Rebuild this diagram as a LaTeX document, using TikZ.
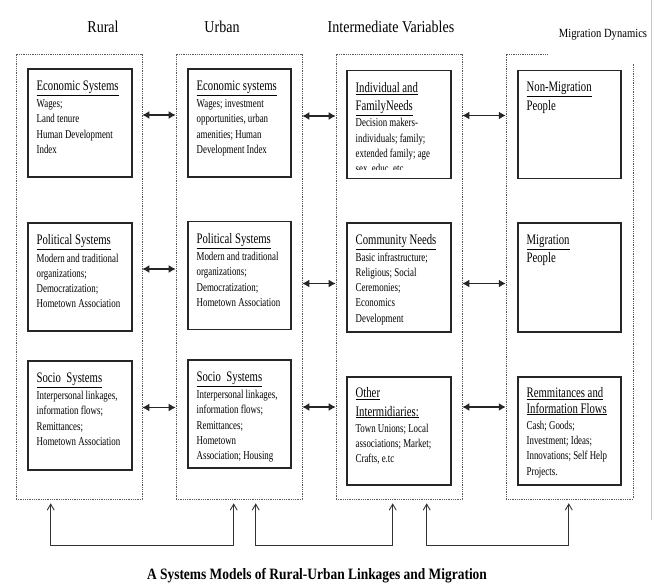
\documentclass[tikz,border=0pt]{standalone}
\usepackage{fontspec}
\setmainfont{Liberation Serif}[FakeStretch=0.74]
\newfontfamily\headfont{Liberation Serif}[FakeStretch=0.85]
\usetikzlibrary{arrows.meta,calc}

\tikzset{
  groupline/.style={draw=black!65, line width=0.6pt, dash pattern=on 1pt off 0.8pt},
  group/.style={groupline, minimum width=126pt, minimum height=445pt, inner sep=0pt},
  sysbox/.style={draw=black!85, line width=1.1pt, minimum width=104pt, minimum height=108pt, inner sep=0pt},
  boxtext/.style={anchor=north west, align=left, inner sep=0pt, font=\fontsize{12}{15.3}\selectfont},
  head/.style={font=\headfont\fontsize{16.5}{18}\selectfont},
  link/.style={{Latex[length=7pt,width=8pt]}-{Latex[length=7pt,width=8pt]}, line width=1.5pt, draw=black!85},
  feed/.style={{Straight Barb[length=6pt,width=7pt]}-{Straight Barb[length=6pt,width=7pt]}, line width=0.9pt, draw=black!80}
}
\newcommand{\ttl}[1]{{\fontsize{14.5}{16}\selectfont\underline{#1}}}
\newcommand{\bigtxt}[1]{{\fontsize{14.5}{16}\selectfont #1}}

\begin{document}
\begin{tikzpicture}[x=1pt,y=-1pt]
\useasboundingbox (0,0) rectangle (662,584);

% column headings
\node[head] (hRural) at (103,27) {Rural};
\node[head] (hUrban) at (222,27) {Urban};
\node[head] (hInter) at (391,27) {Intermediate Variables};
\node[font=\headfont\fontsize{12.5}{14}\selectfont] (hMigr) at (603,35) {Migration Dynamics};

% page edge
\draw[black!22, line width=1pt] (651,0) -- (651,520);

% dotted column groups
\node[group] (rural) at (79,276.5) {};
\node[group] (urban) at (239,276.5) {};
\node[group] (inter) at (399,276.5) {};
\node[inner sep=0pt, minimum width=127pt, minimum height=445pt] (migr) at (569.5,276.5) {};
\draw[groupline] ($(migr.north west)+(42,0)$) -- (migr.north west) -- (migr.south west)
  -- (migr.south east) -- ($(migr.north east)+(0,10)$);

% system boxes
\node[sysbox] (rEco) at (80,123) {};
\node[sysbox, minimum width=103pt] (uEco) at (239.5,123) {};
\node[sysbox] (iInd) at (399,124.5) {};
\node[sysbox, minimum width=103pt] (mNon) at (569.5,124.5) {};

\node[sysbox] (rPol) at (80,277) {};
\node[sysbox, minimum width=103pt] (uPol) at (239.5,275.5) {};
\node[sysbox, minimum height=109pt] (iCom) at (399,277.5) {};
\node[sysbox, minimum width=103pt, minimum height=109pt] (mMig) at (569.5,277.5) {};

\node[sysbox, minimum height=109pt] (rSoc) at (80,415.5) {};
\node[sysbox, minimum width=103pt] (uSoc) at (239.5,414) {};
\node[sysbox] (iOth) at (399,431) {};
\node[sysbox, minimum width=103pt] (mRem) at (569.5,431) {};

% box contents
\node[boxtext] (rEcoT) at ($(rEco.north west)+(9,12)$)
  {\ttl{Economic Systems}\\[2pt] Wages;\\ Land tenure\\ Human Development\\ Index};
\node[boxtext] (uEcoT) at ($(uEco.north west)+(9,12)$)
  {\ttl{Economic systems}\\[2pt] Wages; investment\\ opportunities, urban\\ amenities; Human\\ Development Index};
\begin{scope}
  \clip ($(iInd.north west)+(1,1)$) rectangle ($(iInd.south east)+(-1,-10)$);
  \node[boxtext] (iIndT) at ($(iInd.north west)+(9,12)$)
    {\ttl{Individual and}\\[3pt] \ttl{FamilyNeeds}\\[1pt] Decision makers-\\ individuals; family;\\ extended family; age\\ sex, educ, etc};
\end{scope}
\node[boxtext] (mNonT) at ($(mNon.north west)+(9,12)$)
  {\ttl{Non-Migration}\\[3pt] \bigtxt{People}};

\node[boxtext] (rPolT) at ($(rPol.north west)+(9,12)$)
  {\ttl{Political Systems}\\[2pt] Modern and traditional\\ organizations;\\ Democratization;\\ Hometown Association};
\node[boxtext] (uPolT) at ($(uPol.north west)+(9,12)$)
  {\ttl{Political Systems}\\[2pt] Modern and traditional\\ organizations;\\ Democratization;\\ Hometown Association};
\node[boxtext] (iComT) at ($(iCom.north west)+(9,12)$)
  {\ttl{Community Needs}\\[1pt] Basic infrastructure;\\ Religious; Social\\ Ceremonies;\\ Economics\\ Development};
\node[boxtext] (mMigT) at ($(mMig.north west)+(9,12)$)
  {\ttl{Migration}\\[3pt] \bigtxt{People}};

\node[boxtext] (rSocT) at ($(rSoc.north west)+(9,12)$)
  {\ttl{Socio\ \ Systems}\\[2pt] Interpersonal linkages,\\ information flows;\\ Remittances;\\ Hometown Association};
\node[boxtext] (uSocT) at ($(uSoc.north west)+(9,12)$)
  {\ttl{Socio\ \ Systems}\\[2pt] Interpersonal linkages,\\ information flows;\\ Remittances;\\ Hometown\\ Association; Housing};
\node[boxtext] (iOthT) at ($(iOth.north west)+(9,11)$)
  {\ttl{Other}\\[3pt] \ttl{Intermidiaries:}\\[1pt] Town Unions; Local\\ associations; Market;\\ Crafts, e.tc};
\node[boxtext] (mRemT) at ($(mRem.north west)+(9,11)$)
  {\ttl{Remmitances and}\\ \ttl{Information Flows}\\[1pt] Cash; Goods;\\ Investment; Ideas;\\ Innovations; Self Help\\ Projects.};

% links between the columns
\draw[link] ($(rural.east |- rEco.center)+(0,-8)$) -- ($(urban.west |- rEco.center)+(0,-8)$);
\draw[link] ($(urban.east |- uEco.center)+(0,-7)$) -- ($(inter.west |- uEco.center)+(0,-7)$);
\draw[link] ($(inter.east |- iInd.center)+(0,-9)$) -- ($(migr.west |- iInd.center)+(0,-9)$);

\draw[link] ($(rural.east |- rPol.center)+(0,-8)$) -- ($(urban.west |- rPol.center)+(0,-8)$);
\draw[link] ($(urban.east |- uPol.center)+(0,8)$) -- ($(inter.west |- uPol.center)+(0,8)$);
\draw[link] ($(inter.east |- iCom.center)+(0,6)$) -- ($(migr.west |- iCom.center)+(0,6)$);

\draw[link] ($(rural.east |- rSoc.center)+(0,-8)$) -- ($(urban.west |- rSoc.center)+(0,-8)$);
\draw[link] ($(urban.east |- uSoc.center)+(0,-7)$) -- ($(inter.west |- uSoc.center)+(0,-7)$);
\draw[link] ($(inter.east |- iOth.center)+(0,-24)$) -- ($(migr.west |- iOth.center)+(0,-24)$);

% feedback brackets under the columns
\coordinate (f1) at ($(rural.south west)+(35,4)$);
\coordinate (f2) at ($(urban.south west)+(58,4)$);
\coordinate (f3) at ($(urban.south west)+(80,4)$);
\coordinate (f4) at ($(inter.south west)+(57,4)$);
\coordinate (f5) at ($(inter.south west)+(91,4)$);
\coordinate (f6) at ($(migr.south west)+(63,4)$);
\draw[feed] (f1) -- ++(0,42) -| (f2);
\draw[feed] (f3) -- ++(0,42) -| (f4);
\draw[feed] (f5) -- ++(0,42) -| (f6);

% caption
\node[font=\headfont\bfseries\fontsize{15.8}{18}\selectfont] (cap) at (317,576)
  {A Systems Models of Rural-Urban Linkages and Migration};
\end{tikzpicture}
\end{document}
